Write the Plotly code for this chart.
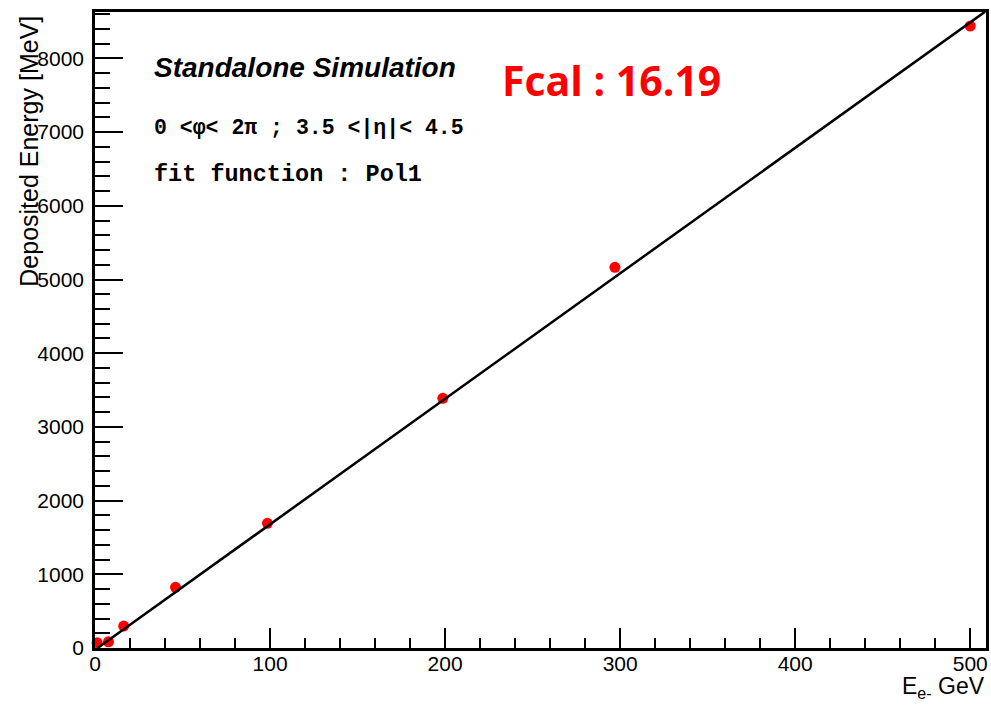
import plotly.graph_objects as go

# Beam energy (GeV) and mean deposited energy (MeV)
beam_energy = [1.2, 7.7, 16.4, 46.0, 98.5, 198.7, 297.0, 500.0]
deposited_energy = [72, 85, 298, 824, 1692, 3388, 5166, 8440]

# Linear (pol1) fit parameters and the range it is drawn over
fit_slope = 17.03
fit_intercept = -25.0
fit_range = [1.5, 508.5]

x_range = [0, 509]
y_range = [0, 8630]

W, H = 991, 705
L, R, T, B = 95, 2, 12, 57
PW, PH = W - L - R, H - T - B


def px(x):
    return (x - L) / PW


def py(y):
    return (H - B - y) / PH


fit_y = [fit_slope * e + fit_intercept for e in fit_range]

fig = go.Figure()
fig.add_trace(go.Scatter(
    x=beam_energy, y=deposited_energy, mode="markers",
    marker=dict(color="#ff0000", size=11, line=dict(width=0)),
    cliponaxis=False, showlegend=False,
))
fig.add_trace(go.Scatter(
    x=fit_range, y=fit_y, mode="lines",
    line=dict(color="black", width=2.5),
    showlegend=False,
))

axis_font = dict(family="Liberation Sans, Arial, sans-serif", size=21, color="black")

fig.update_layout(
    width=W, height=H,
    margin=dict(l=L, r=R, t=T, b=B),
    paper_bgcolor="white", plot_bgcolor="white",
    font=axis_font,
    xaxis=dict(
        range=x_range, showgrid=False, zeroline=False,
        showline=True, linecolor="black", linewidth=2.5, mirror=True,
        ticks="inside", ticklen=20, tickwidth=2, tickcolor="black",
        tick0=0, dtick=100, tickfont=axis_font, ticklabelstandoff=-5,
        minor=dict(ticks="inside", ticklen=10, tickwidth=2, tickcolor="black",
                   dtick=20, showgrid=False),
    ),
    yaxis=dict(
        range=y_range, showgrid=False, zeroline=False,
        showline=True, linecolor="black", linewidth=2.5, mirror=True,
        ticks="inside", ticklen=28, tickwidth=2, tickcolor="black",
        tick0=0, dtick=1000, tickfont=axis_font, ticklabelstandoff=4,
        minor=dict(ticks="inside", ticklen=15, tickwidth=2, tickcolor="black",
                   dtick=200, showgrid=False),
    ),
)

annotations = [
    dict(text="Deposited Energy [MeV]", x=px(28), y=py(14), textangle=-90,
         xanchor="center", yanchor="top",
         font=dict(family="Liberation Sans, Arial, sans-serif", size=25, color="black")),
    dict(text="E<sub>e-</sub> GeV", x=px(990), y=py(704),
         xanchor="right", yanchor="bottom",
         font=dict(family="Liberation Sans, Arial, sans-serif", size=23, color="black")),
    dict(text="<b><i>Standalone Simulation</i></b>", x=px(152), y=py(68),
         xanchor="left", yanchor="middle",
         font=dict(family="Liberation Sans, Arial, sans-serif", size=28, color="black")),
    dict(text="<b>0 &lt;\u03c6&lt; 2\u03c0 ; 3.5 &lt;|\u03b7|&lt; 4.5</b>", x=px(152), y=py(128),
         xanchor="left", yanchor="middle",
         font=dict(family="Liberation Mono, Courier New, monospace", size=21.5, color="black")),
    dict(text="<b>fit function : Pol1</b>", x=px(152), y=py(174),
         xanchor="left", yanchor="middle",
         font=dict(family="Liberation Mono, Courier New, monospace", size=23.5, color="black")),
    dict(text="<b>Fcal : 16.19</b>", x=px(501), y=py(80),
         xanchor="left", yanchor="middle",
         font=dict(family="Open Sans, sans-serif", size=41, color="#ff0000")),
]
for a in annotations:
    a.update(xref="paper", yref="paper", showarrow=False)
fig.update_layout(annotations=annotations)

fig.write_html("out.html")
